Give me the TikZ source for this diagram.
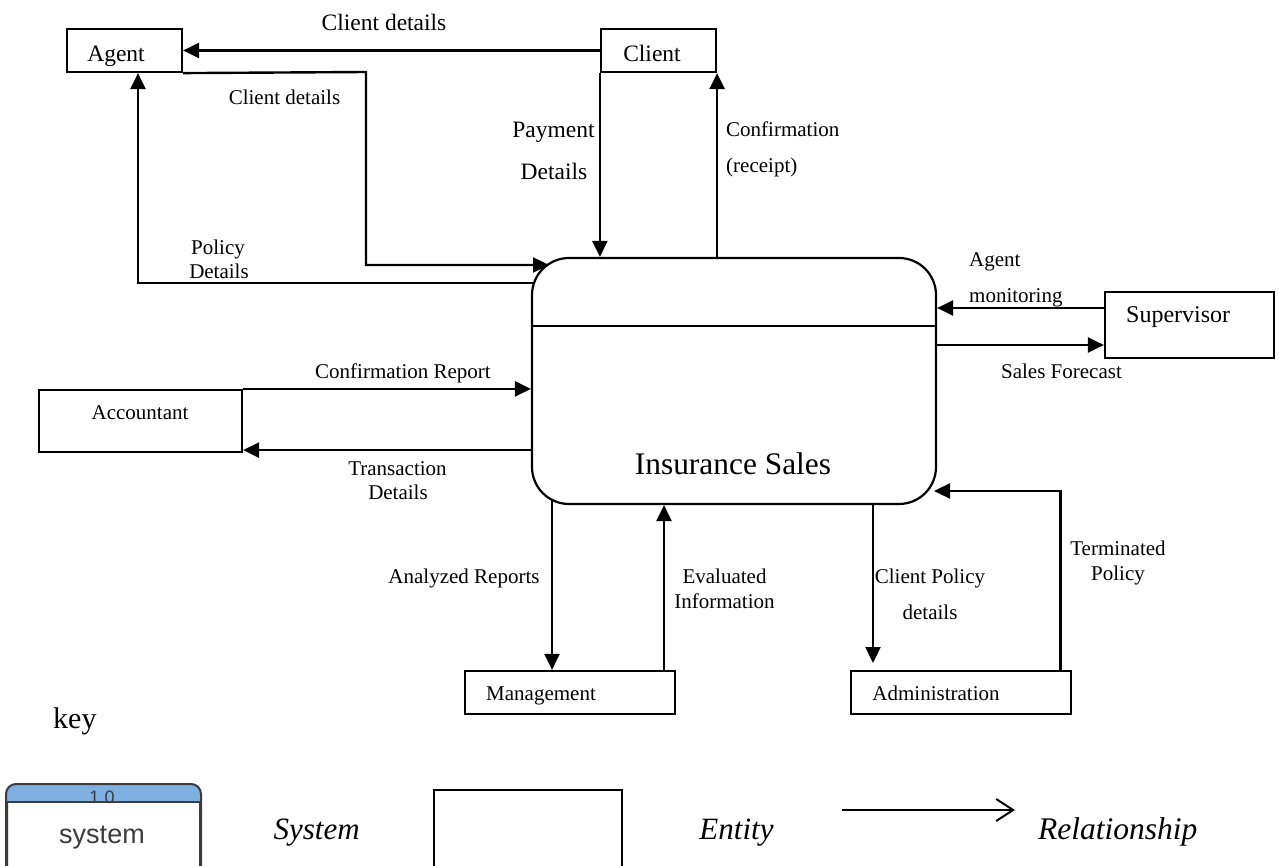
\documentclass[tikz,border=0pt]{standalone}
\usepackage{fontspec}
\setmainfont{Liberation Serif}
\newfontfamily\arialfont{Liberation Sans}
\usetikzlibrary{arrows.meta,calc}
\definecolor{sysblue}{RGB}{126,176,226}
\definecolor{sysgray}{RGB}{60,60,60}
\begin{document}
\begin{tikzpicture}[x=1pt,y=-1pt,
  box/.style={draw, line width=2.2pt, rectangle, inner sep=0pt},
  arr/.style={line width=2.4pt, -{Triangle[length=16pt,width=15pt]}},
  lbl/.style={inner sep=0pt, anchor=base, font=\fontsize{21}{25}\selectfont},
  lblw/.style={inner sep=0pt, anchor=base west, font=\fontsize{21}{25}\selectfont},
  big/.style={inner sep=0pt, anchor=base, font=\fontsize{23.5}{28}\selectfont},
  keyit/.style={inner sep=0pt, anchor=base, font=\fontsize{31}{36}\selectfont\itshape},
]
\useasboundingbox (0,0) rectangle (1279,866);

% entity boxes
\node[box, minimum width=115pt, minimum height=43pt] (agent) at (124.5,50.5) {};
\node[box, minimum width=115pt, minimum height=43pt] (client) at (658.5,50.5) {};
\node[box, minimum width=169pt, minimum height=66pt] (supervisor) at (1189.5,325) {};
\node[box, minimum width=203pt, minimum height=62pt] (accountant) at (140.5,421) {};
\node[box, minimum width=210pt, minimum height=43pt] (management) at (570,692.5) {};
\node[box, minimum width=220pt, minimum height=43pt] (administration) at (961,692.5) {};

% main process
\node[box, rounded corners=37pt, minimum width=404pt, minimum height=246pt] (main) at (734,381) {};
\coordinate (divY) at (0,326);
\draw[line width=2.2pt] (main.west |- divY) -- (main.east |- divY);

% box texts
\node[big] (agentT) at (116,62) {Agent};
\node[big] (clientT) at (652,62) {Client};
\node[inner sep=0pt, anchor=base west, font=\fontsize{24}{28}\selectfont] (supT) at (1126,323) {Supervisor};
\node[lbl] (accT) at (140,419) {Accountant};
\node[lblw] (mgT) at (486,700) {Management};
\node[lbl] (adT) at (936,700) {Administration};
\node[inner sep=0pt, anchor=base, font=\fontsize{31.4}{36}\selectfont] (isT) at (733,474) {Insurance Sales};

% connectors
\draw[arr] (client.west) -- (agent.east);

\coordinate (cdBend) at (366,72);
\coordinate (cdEnd) at (549,265);
\draw[arr] (agent.south east) -- (cdBend) |- (cdEnd);

\coordinate (polStart) at (534,283);
\coordinate (polBend) at (138,283);
\draw[arr] (polStart) -- (polBend) -- (polBend |- agent.south);

\draw[arr] (client.south west) -- (client.south west |- main.north);
\draw[arr] (client.south east |- main.north) -- (client.south east);

\coordinate (amS) at ([yshift=17pt]supervisor.west);
\draw[arr] (amS) -- (amS -| main.east);
\coordinate (sfS) at ([yshift=-20pt]supervisor.west);
\draw[arr] (sfS -| main.east) -- (sfS);

\draw[arr] (accountant.north east) -- (accountant.north east -| main.west);
\coordinate (tdS) at ([yshift=3pt]accountant.south east);
\draw[arr] (tdS -| main.west) -- (tdS);

\coordinate (arX) at (552,500);
\draw[arr] (arX) -- (arX |- management.north);
\coordinate (evX) at (664,0);
\draw[arr] (evX |- management.north) -- (evX |- main.south);

\coordinate (cpS) at (873,503);
\coordinate (cpE) at (873,663);
\draw[arr] (cpS) -- (cpE);

\coordinate (tpX) at (1060.5,491);
\coordinate (tpE) at (934,491);
\draw[arr] (tpX |- administration.north) -- (tpX) -- (tpE);

% connector labels
\node[big] (topCD) at (384,31) {Client details};
\node[lbl] (cd2) at (284.5,105) {Client details};
\node[big] (pay1) at (553.5,138) {Payment};
\node[big] (pay2) at (554,180) {Details};
\node[lbl] (pol1) at (218,255) {Policy};
\node[lbl] (pol2) at (219,279) {Details};
\node[lblw] (conf1) at (726,137) {Confirmation};
\node[lblw] (conf2) at (726,173) {(receipt)};
\node[lblw] (am1) at (969,267) {Agent};
\node[lblw] (am2) at (969,303) {monitoring};
\node[lbl] (sf) at (1061.5,378) {Sales Forecast};
\node[lbl] (cr) at (403,378) {Confirmation Report};
\node[lbl] (td1) at (397.5,475) {Transaction};
\node[lbl] (td2) at (398,499) {Details};
\node[lbl] (ar) at (464,583) {Analyzed Reports};
\node[lbl] (ev1) at (724.5,583) {Evaluated};
\node[lbl] (ev2) at (724.5,608) {Information};
\node[lbl] (cp1) at (930,583) {Client Policy};
\node[lbl] (cp2) at (930,619) {details};
\node[lbl] (tp1) at (1118,555) {Terminated};
\node[lbl] (tp2) at (1118,580) {Policy};

% key
\node[inner sep=0pt, anchor=base west, font=\fontsize{30}{34}\selectfont] (keyT) at (53,728) {key};

\node[draw=sysgray, fill=white, line width=2pt, rounded corners=10pt, minimum width=193pt, minimum height=100pt, inner sep=0pt] (sysicon) at (103.5,835) {};
\coordinate (hdr) at (0,802);
\begin{scope}
  \clip[rounded corners=10pt] (sysicon.north west) rectangle (sysicon.south east);
  \fill[sysblue] (sysicon.north west) rectangle (sysicon.east |- hdr);
\end{scope}
\node[inner sep=0pt, anchor=base, font=\arialfont\fontsize{18}{20}\selectfont, text=sysgray] (oneT) at (102,803.5) {1.0};
\draw[sysgray, line width=2pt] (sysicon.west |- hdr) -- (sysicon.east |- hdr);
\draw[sysgray, line width=2pt, rounded corners=10pt] (sysicon.north west) rectangle (sysicon.south east);
\node[inner sep=0pt, anchor=base, font=\arialfont\fontsize{27}{30}\selectfont, text=sysgray] (sysT) at (102,843) {system};
\node[keyit] (systemT) at (316.7,839) {System};

\node[draw, line width=1.5pt, minimum width=188pt, minimum height=100pt, inner sep=0pt] (entbox) at (528,840) {};
\node[keyit] (entityT) at (736.5,839) {Entity};

\coordinate (r1) at (842,810);
\coordinate (r2) at (1015,810);
\draw[line width=2pt, -{Straight Barb[length=17pt,width=22pt]}] (r1) -- (r2);
\node[inner sep=0pt, anchor=base west, font=\fontsize{31.5}{36}\selectfont\itshape] (relT) at (1038,839) {Relationship};
\end{tikzpicture}
\end{document}
